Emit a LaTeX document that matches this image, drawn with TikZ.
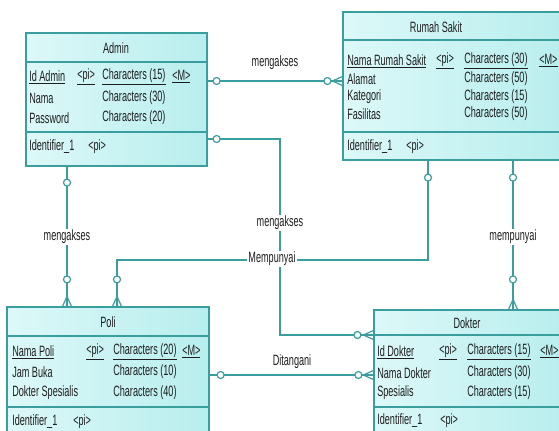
\documentclass[tikz,border=0pt]{standalone}
\usepackage{fontspec}
\setmainfont{Liberation Sans}[FakeStretch=0.61]
\usetikzlibrary{fit}

\definecolor{erline}{HTML}{3A9E9E}
\definecolor{erfill}{HTML}{B8EEEE}
\definecolor{erlight}{HTML}{DDF8F8}
\definecolor{ertext}{HTML}{1E1E1E}

\tikzset{
	entity/.style={draw=erline, line width=0.9pt, left color=erlight, right color=erfill, inner sep=0pt},
	sepline/.style={draw=erline, line width=0.9pt},
	link/.style={draw=erline, line width=0.9pt},
	attr/.style={anchor=west, inner sep=0pt, text=ertext, font=\fontsize{11.2}{13}\selectfont},
	title/.style={inner sep=0pt, text=ertext, font=\fontsize{11.2}{13}\selectfont},
	rel/.style={fill=white, inner sep=1pt, text=ertext, font=\fontsize{11.2}{13}\selectfont},
	one/.pic={
		\draw[link] (0,0) -- (#1,0);
		\draw[link, fill=white] (#1,0) circle (3.5);
	},
	many/.pic={
		\draw[link] (0,0) -- (#1,0) (0,-4.5) -- (10,0) -- (0,4.5);
		\draw[link, fill=white] (#1,0) circle (3.5);
	}
}

\begin{document}
\begin{tikzpicture}[x=0.75pt,y=-0.75pt]

	\clip (0,0) rectangle (559,430);
	\fill[white] (0,0) rectangle (559,430);

	% entities
	\node[entity, fit={(26,33) (207,166)}] (admin) {};
	\node[entity, fit={(343,12) (565,160)}] (rs) {};
	\node[entity, fit={(7,307) (209,445)}] (poli) {};
	\node[entity, fit={(374,310) (565,445)}] (dokter) {};

	\draw[sepline] (26,62) -- (207,62) (26,132) -- (207,132);
	\draw[sepline] (343,40) -- (565,40) (343,132) -- (565,132);
	\draw[sepline] (7,336) -- (209,336) (7,407) -- (209,407);
	\draw[sepline] (374,335) -- (565,335) (374,407) -- (565,407);

	% Admin
	\node[title] at (116,48) {Admin};
	\node[attr] at (29,77) {\underline{Id Admin}};
	\node[attr] at (77,77) {\underline{<pi>}};
	\node[attr] at (102,77) {\underline{Characters (15)}};
	\node[attr] at (172,77) {\underline{<M>}};
	\node[attr] at (29,98) {Nama};
	\node[attr] at (102,98) {Characters (30)};
	\node[attr] at (29,118) {Password};
	\node[attr] at (102,118) {Characters (20)};
	\node[attr] at (29,147) {Identifier\_1};
	\node[attr] at (88,147) {<pi>};

	% Rumah Sakit
	\node[title] at (436,27) {Rumah Sakit};
	\node[attr] at (347,61) {\underline{Nama Rumah Sakit}};
	\node[attr] at (436,61) {\underline{<pi>}};
	\node[attr] at (464,61) {\underline{Characters (30)}};
	\node[attr] at (539,61) {\underline{<M>}};
	\node[attr] at (347,79) {Alamat};
	\node[attr] at (464,79) {Characters (50)};
	\node[attr] at (347,97) {Kategori};
	\node[attr] at (464,97) {Characters (15)};
	\node[attr] at (347,114) {Fasilitas};
	\node[attr] at (464,114) {Characters (50)};
	\node[attr] at (347,147) {Identifier\_1};
	\node[attr] at (406,147) {<pi>};

	% Poli
	\node[title] at (108,322) {Poli};
	\node[attr] at (12,352) {\underline{Nama Poli}};
	\node[attr] at (86,352) {\underline{<pi>}};
	\node[attr] at (113,352) {\underline{Characters (20)}};
	\node[attr] at (182,352) {\underline{<M>}};
	\node[attr] at (12,372) {Jam Buka};
	\node[attr] at (113,372) {Characters (10)};
	\node[attr] at (12,393) {Dokter Spesialis};
	\node[attr] at (113,393) {Characters (40)};
	\node[attr] at (12,422) {Identifier\_1};
	\node[attr] at (73,422) {<pi>};

	% Dokter
	\node[title] at (467,323) {Dokter};
	\node[attr] at (377,352) {\underline{Id Dokter}};
	\node[attr] at (439,352) {\underline{<pi>}};
	\node[attr] at (467,352) {\underline{Characters (15)}};
	\node[attr] at (540,352) {\underline{<M>}};
	\node[attr] at (377,373) {Nama Dokter};
	\node[attr] at (467,373) {Characters (30)};
	\node[attr] at (377,393) {Spesialis};
	\node[attr] at (467,393) {Characters (15)};
	\node[attr] at (377,421) {Identifier\_1};
	\node[attr] at (440,421) {<pi>};

	% relationships
	\draw[link] (admin.east |- 0,81) -- (rs.west |- 0,81);
	\draw[link] (admin.east |- 0,139) -- (280,139) -- (280,335) -- (dokter.west |- 0,335);
	\draw[link] (admin.south -| 67,0) -- (poli.north -| 67,0);
	\draw[link] (poli.north -| 117,0) -- (117,260) -- (428,260) -- (rs.south -| 428,0);
	\draw[link] (rs.south -| 513,0) -- (dokter.north -| 513,0);
	\draw[link] (poli.east |- 0,375) -- (dokter.west |- 0,375);

	\pic at (admin.east |- 0,81) {one=9};
	\pic[rotate=180] at (rs.west |- 0,81) {many=15};
	\pic at (admin.east |- 0,139) {one=9};
	\pic[rotate=180] at (dokter.west |- 0,335) {many=16};
	\pic[rotate=-90] at (admin.south -| 67,0) {one=16};
	\pic[rotate=90] at (poli.north -| 67,0) {many=27};
	\pic[rotate=90] at (poli.north -| 117,0) {many=27};
	\pic[rotate=-90] at (rs.south -| 428,0) {one=17};
	\pic[rotate=-90] at (rs.south -| 513,0) {one=17};
	\pic[rotate=90] at (dokter.north -| 513,0) {many=30};
	\pic at (poli.east |- 0,375) {one=11};
	\pic[rotate=180] at (dokter.west |- 0,375) {many=15};

	\node[rel] (l1) at (275,63) {mengakses};
	\node[rel] (l2) at (67,237) {mengakses};
	\node[rel] (l3) at (280,223) {mengakses};
	\node[rel] (l4) at (272,259) {Mempunyai};
	\node[rel] (l5) at (513,237) {mempunyai};
	\node[rel] (l6) at (292,362) {Ditangani};

\end{tikzpicture}
\end{document}
